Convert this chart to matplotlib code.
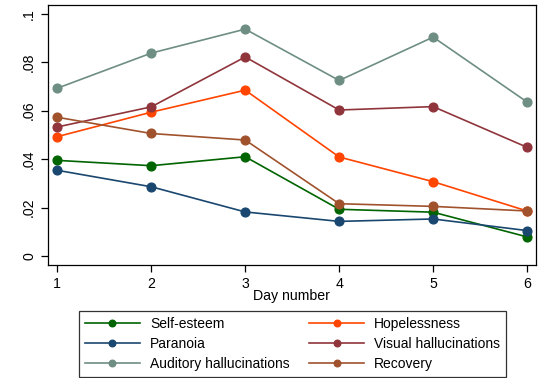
import matplotlib
matplotlib.use("Agg")
import matplotlib.pyplot as plt

plt.rcParams['font.family'] = ['Liberation Sans', 'DejaVu Sans']

days = [1, 2, 3, 4, 5, 6]
self_esteem = [0.0395, 0.0373, 0.0410, 0.0193, 0.0181, 0.0079]
paranoia = [0.0354, 0.0286, 0.0182, 0.0143, 0.0153, 0.0105]
auditory = [0.0693, 0.0838, 0.0937, 0.0725, 0.0904, 0.0636]
hopelessness = [0.0493, 0.0594, 0.0685, 0.0409, 0.0307, 0.0186]
visual = [0.0533, 0.0616, 0.0822, 0.0603, 0.0617, 0.0449]
recovery = [0.0573, 0.0506, 0.0479, 0.0216, 0.0205, 0.0186]

yticks = [0, 0.02, 0.04, 0.06, 0.08, 0.1]
ytick_labels = ["0", ".02", ".04", ".06", ".08", ".1"]

# legend fills column-wise, so list left column first
series = [
    ("Self-esteem", self_esteem, "#006400"),
    ("Paranoia", paranoia, "#1a476f"),
    ("Auditory hallucinations", auditory, "#6e8e84"),
    ("Hopelessness", hopelessness, "#ff4500"),
    ("Visual hallucinations", visual, "#90353b"),
    ("Recovery", recovery, "#a0522d"),
]

fig = plt.figure(figsize=(5.38, 3.78), dpi=100)
ax = fig.add_axes([0.0892, 0.299, 0.9068, 0.688])

for name, vals, col in series:
    ax.plot(days, vals, color=col, lw=1.2, marker='o', ms=6.3, label=name)

ax.set_xlim(0.901, 6.093)
ax.set_ylim(-0.0037, 0.1037)
ax.set_xticks(days)
ax.set_yticks(yticks)
ax.set_yticklabels(ytick_labels, rotation=90, va='center')
ax.tick_params(direction='out', length=5, width=0.9, labelsize=10.2, colors='black')
ax.set_xlabel("Day number", fontsize=10.2, labelpad=-1)
for s in ax.spines.values():
    s.set_linewidth(0.9)

leg = fig.legend(loc='lower left', bbox_to_anchor=(0.147, 0.003, 0.793, 0.172),
                 mode='expand', ncol=2, fontsize=10, handlelength=4.0,
                 handletextpad=0.7, labelspacing=0.45, borderaxespad=0,
                 markerscale=0.75, frameon=True, fancybox=False, edgecolor='black')
leg.get_frame().set_linewidth(0.9)

fig.savefig("out.png", dpi=100)
